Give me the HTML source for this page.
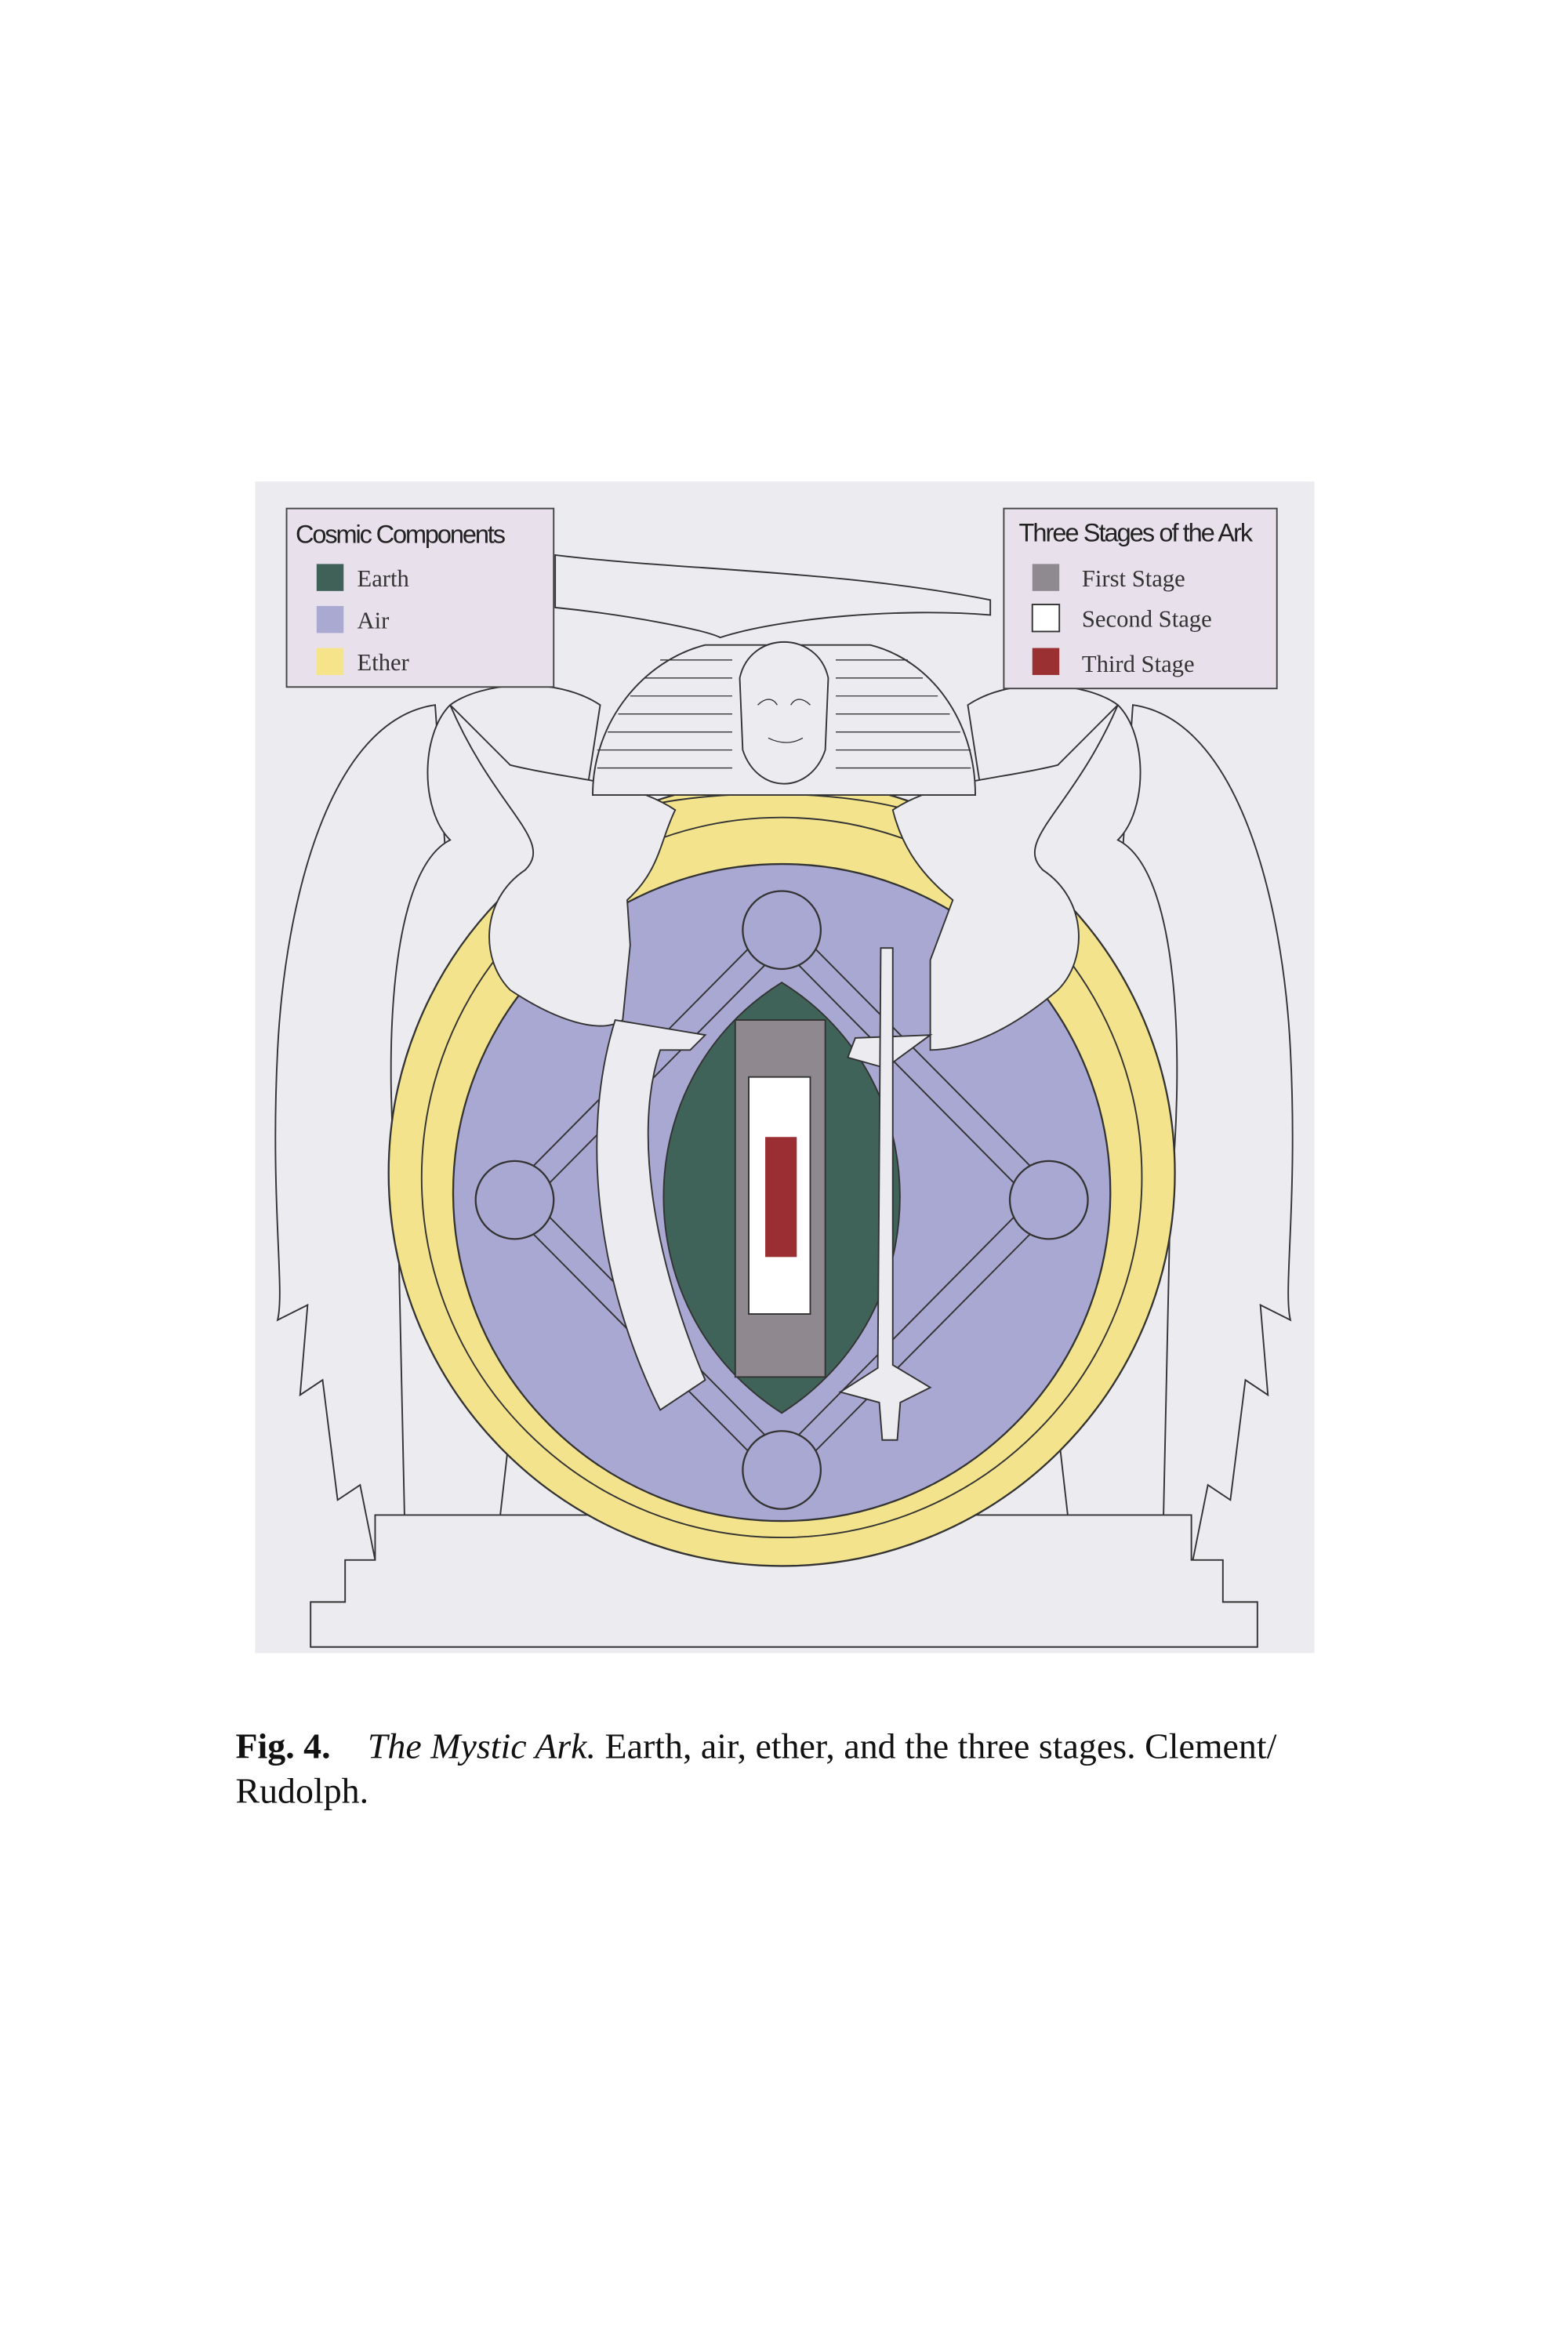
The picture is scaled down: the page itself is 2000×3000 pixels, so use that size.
<!DOCTYPE html>
<html><head><meta charset="utf-8"><style>
html,body{margin:0;padding:0;background:#fff;}
svg{display:block;}
</style></head><body>
<svg width="2000" height="3000" viewBox="0 0 1045 1568" preserveAspectRatio="none" xmlns="http://www.w3.org/2000/svg">
<rect x="0" y="0" width="1045" height="1568" fill="#fff"/>
<rect x="170" y="321" width="706" height="781" fill="#ecebef"/>
<g fill="#ecebef" stroke="#333" stroke-width="1">
<path d="M290,470 C220,480 190,600 185,700 C180,800 190,860 185,880 L205,870 L200,930 L215,920 L225,1000 L240,990 L250,1040 L300,1030 L320,900 Z"/>
<path d="M755,470 C825,480 855,600 860,700 C865,800 855,860 860,880 L840,870 L845,930 L830,920 L820,1000 L805,990 L795,1040 L745,1030 L725,900 Z"/>
<path d="M300,470 C280,490 280,540 300,560 C260,580 255,700 265,800 L270,1030 L330,1040 L380,600 L400,470 C370,450 320,455 300,470 Z"/>
<path d="M745,470 C765,490 765,540 745,560 C785,580 790,700 780,800 L775,1030 L715,1040 L665,600 L645,470 C675,450 725,455 745,470 Z"/>
<path d="M207,1098 L838,1098 L838,1068 L815,1068 L815,1040 L794,1040 L794,1010 L250,1010 L250,1040 L230,1040 L230,1068 L207,1068 Z"/>
</g>
<circle cx="521" cy="782" r="262" fill="#f3e38c" stroke="#333" stroke-width="1.2"/>
<path d="M420,540 C470,525 570,525 620,545 L640,610 L410,610 Z" fill="#f3e38c" stroke="#333"/>
<circle cx="521" cy="785" r="240" fill="none" stroke="#333" stroke-width="1"/>
<circle cx="521" cy="795" r="219" fill="#a9a8d2" stroke="#333" stroke-width="1.2"/>
<g fill="none" stroke="#333" stroke-width="1">
<path d="M521,610 L333,800 L521,990 L709,800 Z"/>
<path d="M521,632 L355,800 L521,968 L687,800 Z"/>
</g>
<g fill="#a9a8d2" stroke="#333" stroke-width="1.2">
<circle cx="521" cy="620" r="26"/><circle cx="343" cy="800" r="26"/>
<circle cx="699" cy="800" r="26"/><circle cx="521" cy="980" r="26"/>
</g>
<path d="M521,655 C626,720 626,875 521,942 C416,875 416,720 521,655 Z" fill="#3f6358" stroke="#333"/>
<rect x="490" y="680" width="60" height="238" fill="#8f898f" stroke="#333"/>
<rect x="499" y="718" width="41" height="158" fill="#fff" stroke="#333"/>
<rect x="510" y="758" width="21" height="80" fill="#9a2e33"/>
<g fill="#ecebef" stroke="#333" stroke-width="1">
<path d="M300,470 C330,540 370,560 350,580 C320,600 320,640 340,660 C370,680 400,690 415,680 L420,630 L418,600 C440,580 440,560 450,540 C420,520 380,520 340,510 Z"/>
<path d="M745,470 C715,540 675,560 695,580 C725,600 725,640 705,660 C670,690 640,700 620,700 L620,640 L635,600 C610,580 600,560 595,540 C625,520 665,520 705,510 Z"/>
<path d="M410,680 L470,690 L460,700 L440,700 C420,760 440,850 470,920 L440,940 C400,860 385,760 410,680 Z"/>
<path d="M620,690 L570,692 L565,705 L590,712 Z"/>
<path d="M587,632 L595,632 L595,910 L620,925 L600,935 L598,960 L588,960 L586,935 L560,928 L585,912 Z"/>
</g>
<g fill="#ecebef" stroke="#333" stroke-width="1">
<path d="M395,530 C395,480 430,440 470,430 L580,430 C620,440 650,480 650,530 Z"/>
<path d="M493,452 C500,420 545,420 552,452 L550,500 C540,530 505,530 495,500 Z"/>
<path d="M370,370 C450,380 560,380 660,400 L660,410 C600,405 520,412 480,425 C470,420 420,410 370,405 Z"/>
</g>
<g stroke="#333" stroke-width="0.7" fill="none">
<path d="M398,500 L488,500 M398,512 L488,512 M405,488 L488,488 M412,476 L488,476 M420,464 L488,464 M430,452 L488,452 M440,440 L488,440"/>
<path d="M557,500 L647,500 M557,512 L647,512 M557,488 L640,488 M557,476 L633,476 M557,464 L625,464 M557,452 L615,452 M557,440 L605,440"/>
<path d="M505,470 C510,465 515,465 518,470 M527,470 C530,465 535,465 540,470 M512,492 C520,496 528,496 535,492"/>
</g>
<rect x="191" y="339" width="178" height="119" fill="#e8e1ec" stroke="#444"/>
<text x="197" y="362" font-family="Liberation Sans, sans-serif" font-size="17" fill="#222" textLength="140">Cosmic Components</text>
<rect x="211" y="376" width="18" height="18" fill="#3f6158"/>
<rect x="211" y="404" width="18" height="18" fill="#a9a9d2"/>
<rect x="211" y="432" width="18" height="18" fill="#f5e48a"/>
<g font-family="Liberation Serif, serif" font-size="16" fill="#333">
<text x="238" y="391">Earth</text><text x="238" y="419">Air</text><text x="238" y="447">Ether</text>
</g>
<rect x="669" y="339" width="182" height="120" fill="#e8e1ec" stroke="#444"/>
<text x="679" y="361" font-family="Liberation Sans, sans-serif" font-size="17" fill="#222" textLength="156">Three Stages of the Ark</text>
<rect x="688" y="376" width="18" height="18" fill="#8e8a90"/>
<rect x="688" y="403" width="18" height="18" fill="#fff" stroke="#333"/>
<rect x="688" y="432" width="18" height="18" fill="#9b3033"/>
<g font-family="Liberation Serif, serif" font-size="16" fill="#333">
<text x="721" y="391">First Stage</text><text x="721" y="418">Second Stage</text><text x="721" y="448">Third Stage</text>
</g>
<g font-family="Liberation Serif, serif" font-size="24" fill="#111">
<text x="157" y="1172"><tspan font-weight="bold">Fig. 4.</tspan><tspan x="245" font-style="italic">The Mystic Ark.</tspan> Earth, air, ether, and the three stages. Clement/</text>
<text x="157" y="1202">Rudolph.</text>
</g>
</svg>
</body></html>
